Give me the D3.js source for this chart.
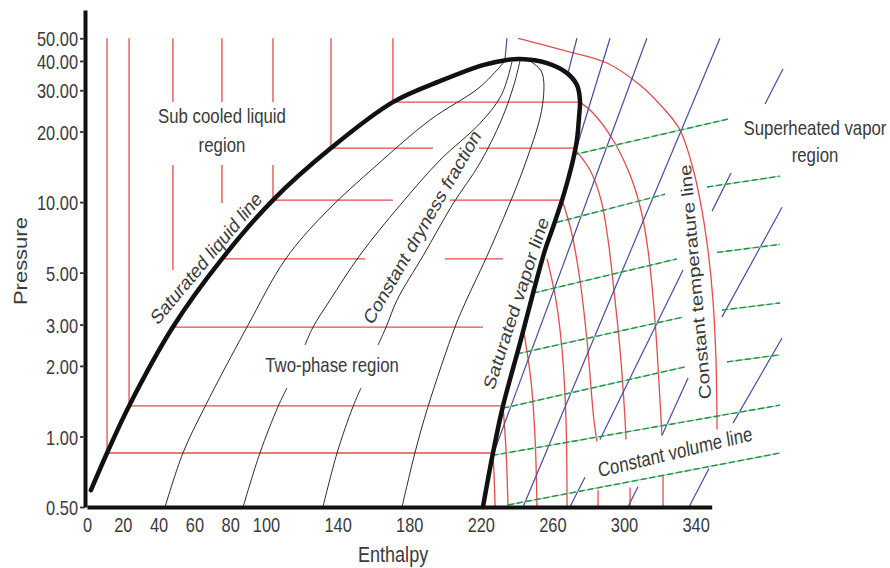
<!DOCTYPE html>
<html>
<head>
<meta charset="utf-8">
<script src="https://cdn.jsdelivr.net/npm/d3@7"></script>
<style>
  body { margin: 0; background: #fff; }
  text { font-family: "Liberation Sans", Arial, Helvetica, sans-serif; fill: #3a3a3a; }
</style>
</head>
<body>
<svg id="chart" width="890" height="568"></svg>
<script>
// ---- Axis ticks ----
const pressureTicks = [0.5, 1, 2, 3, 5, 10, 20, 30, 40, 50];
const enthalpyTicks = [0, 20, 40, 60, 80, 100, 140, 180, 220, 260, 300, 340];

// ---- Saturation dome: [enthalpy, pressure] ----
const satLiquid = [[2.2,0.59],[11.2,0.85],[23.5,1.35],[48.0,2.93],[75.4,5.72],[103.9,10.2],
  [136.3,17.0],[170.9,26.7],[198.9,33.2],[221.2,38.4],[234.6,40.4],[241.9,40.8]];
const satVapor = [[241.9,40.8],[257.0,39.2],[268.2,35.5],[273.7,31.6],[275.4,27.2],[274.9,23.1],
  [273.7,18.4],[271.5,15.1],[268.2,12.06],[265.4,10.2],[259.8,7.6],[255.9,6.25],[249.2,4.09],
  [241.9,2.5],[232.4,1.35],[226.8,0.85],[221.2,0.5]];

// ---- Isotherms (red) ----
const isoSatP = [0.85, 1.35, 2.93, 5.72, 10.2, 17.0, 26.7];
const isoLiquidH = [11.2, 23.5, 48.0, 75.4, 103.9, 136.3, 170.9];
// vertical runs in the sub-cooled region: [P from, P to]
const isoLiquidRuns = [
  [[50, 0.85]],
  [[50, 1.35]],
  [[50, 26.7], [14.4, 5.13]],
  [[50, 26.7], [14.4, 9.9]],
  [[50, 26.7], [14.4, 10.2]],
  [[50, 17.0]],
  [[50, 26.7]]
];
// horizontal runs across the two-phase region: [h from, h to]
const isoTwoPhaseRuns = [
  [[11.2, 226.8]],
  [[23.5, 232.4]],
  [[48.0, 221.2]],
  [[75.4, 155.3], [200.0, 232.4]],
  [[103.9, 170.9], [202.8, 265.4]],
  [[136.3, 193.3], [219.0, 272.1]],
  [[170.9, 275.4]]
];
// superheated branches: [h, P] points
const isoVaporRuns = [
  [[[226.8,0.85],[227.5,0.66],[228.0,0.5]]],
  [[[232.4,1.35],[234.1,0.875],[235.2,0.5]]],
  [[[243.6,2.93],[248.0,1.74],[250.3,0.99],[251.4,0.5]]],
  [[[257.0,5.72],[262.0,3.82],[265.4,2.34],[267.6,1.175],[268.2,0.5]]],
  [[[265.4,10.2],[270.4,7.6],[275.4,4.65],[279.3,2.58],[283.2,1.175],[284.9,0.95]],
   [[285.5,0.59],[285.5,0.5]]],
  [[[272.1,17.0],[281.0,13.7],[287.2,10.2],[291.1,6.9],[294.4,4.2],[297.8,2.34],[300.6,1.175],[301.1,0.97]],
   [[303.4,0.605],[303.4,0.5]]],
  [[[275.4,26.7],[282.7,24.0],[293.9,18.4],[303.4,13.05],[309.5,9.25],[313.4,6.25],[317.3,3.14],[320.1,1.43],[321.2,1.01]],
   [[321.8,0.68],[321.8,0.5]]]
];
// supercritical isotherm
const isoSupercritical = [[240.8,50],[265.9,44.5],[290.5,39.2],[308.9,31.6],[322.9,24.7],[331.3,20.3],
  [338.0,14.4],[342.5,10.2],[346.9,6.25],[349.7,3.82],[351.4,2.12],[352.0,1.07]];

// ---- Isentropes (blue), runs of [h, P] ----
const entropyRuns = [
  [[[233.5,40.4],[234.6,50]]],
  [[[268.7,35.5],[273.7,50]]],
  [[[272.6,16.2],[292.2,50]]],
  [[[225.1,0.77],[312.8,50]]],
  [[[243.6,0.5],[353.6,50]]],
  [[[269.8,0.5],[278.2,0.67]], [[286.6,0.97],[333.0,5.13]], [[349.2,9.15],[359.8,13.3]], [[378.8,26.2],[388.8,37.0]]],
  [[[302.2,0.5],[307.8,0.61]], [[321.2,1.01],[335.8,1.775]], [[354.7,3.23],[388.3,9.5]]],
  [[[336.3,0.5],[347.5,0.73]], [[360.9,1.14],[388.3,2.63]]]
];

// ---- Constant volume lines (green dashed), runs of [h, P] ----
const volumeRuns = [
  [[[271.5,15.9],[358.1,22.6]]],
  [[[262.6,8.2],[322.9,10.8]], [[346.4,11.6],[387.2,12.9]]],
  [[[249.2,4.09],[329.6,5.72]], [[352.0,6.1],[387.2,6.6]]],
  [[[240.2,2.25],[333.0,3.23]], [[354.7,3.46],[387.2,3.71]]],
  [[[232.4,1.32],[334.1,1.98]], [[357.5,2.08],[387.2,2.23]]],
  [[[226.3,0.83],[387.2,1.36]]],
  [[[235.2,0.51],[387.2,0.85]]]
];

// ---- Constant dryness fraction lines (thin black), runs of [h, P] ----
const qualityRuns = [
  [[[43.6,0.5],[53.6,0.85],[65.9,1.34],[89.4,2.93],[111.0,5.72],[133.0,8.98],
    [162.0,14.4],[191.6,22.4],[219.6,31.0],[233.5,40.0]]],
  [[[87.2,0.5],[96.6,0.85],[106.7,1.34],[111.7,1.61]],
   [[121.8,2.455],[126.3,2.93],[135.8,3.82],[152.5,5.94],[174.9,9.7],[197.2,15.1],[219.6,21.7],[231.5,28.6],[237.4,39.6]]],
  [[[131.8,0.5],[139.7,0.85],[148.6,1.34],[153.1,1.61]],
   [[162.6,2.455],[167.6,2.99],[173.2,3.82],[188.0,5.94],[204.0,9.7],[219.6,14.7],[231.5,22.4],[238.5,31.6],[241.9,40.0]]],
  [[[176.0,0.5],[183.2,0.85],[190.5,1.34],[205.6,2.93],[212.0,3.82],[225.0,6.25],[245.0,14.7],
    [254.5,26.0],[254.0,35.9],[247.5,40.0]]]
];

// ---- Scales ----
const svg = d3.select('#chart');
const x = d3.scaleLinear().domain([0, 349]).range([87, 711.7]);
const y = d3.scaleLog().domain([0.5, 66]).range([507, 10]);
const SX = 0.82; // horizontal glyph compression of the lettering

const smooth = d3.line().x(d => x(d[0])).y(d => y(d[1])).curve(d3.curveCatmullRom.alpha(0.5));
const straight = d3.line().x(d => x(d[0])).y(d => y(d[1]));

const RED = '#e64a4c', BLUE = '#4a4a9e', GREEN = '#22914a';

// ---- Isotherms ----
const gIso = svg.append('g').attr('fill', 'none').attr('stroke', RED).attr('stroke-width', 1.3);
isoLiquidRuns.forEach((runs, i) => {
  runs.forEach(r => gIso.append('path').attr('d', straight([[isoLiquidH[i], r[0]], [isoLiquidH[i], r[1]]])));
});
isoTwoPhaseRuns.forEach((runs, i) => {
  runs.forEach(r => gIso.append('path').attr('d', straight([[r[0], isoSatP[i]], [r[1], isoSatP[i]]])));
});
isoVaporRuns.forEach(runs => runs.forEach(r => gIso.append('path').attr('d', smooth(r))));
gIso.append('path').attr('d', smooth(isoSupercritical));

// ---- Isentropes ----
const gEnt = svg.append('g').attr('fill', 'none').attr('stroke', BLUE).attr('stroke-width', 1.2);
entropyRuns.forEach(runs => runs.forEach(r => gEnt.append('path').attr('d', straight(r))));

// ---- Constant volume lines ----
const gVol = svg.append('g').attr('fill', 'none');
volumeRuns.forEach(runs => runs.forEach(r => {
  gVol.append('path').attr('d', straight(r)).attr('stroke', '#8fd3a0').attr('stroke-width', 1.2);
  gVol.append('path').attr('d', straight(r)).attr('stroke', GREEN).attr('stroke-width', 1.4)
      .attr('stroke-dasharray', '6,3');
}));

// ---- Dryness fraction lines ----
const gQ = svg.append('g').attr('fill', 'none').attr('stroke', '#2b2b2b').attr('stroke-width', 1);
qualityRuns.forEach(runs => runs.forEach(r => gQ.append('path').attr('d', smooth(r))));

// ---- Saturation dome ----
svg.append('path')
  .attr('d', smooth(satLiquid.concat(satVapor.slice(1))))
  .attr('fill', 'none').attr('stroke', '#111').attr('stroke-width', 4.5)
  .attr('stroke-linejoin', 'round').attr('stroke-linecap', 'round');

// ---- Axes ----
const yAxis = svg.append('g').attr('transform', `translate(${x(0) - 2},0)`)
  .call(d3.axisLeft(y).tickValues(pressureTicks).tickFormat(d3.format('.2f')).tickSize(5).tickSizeOuter(0).tickPadding(2));
const xAxis = svg.append('g').attr('transform', `translate(0,${y(0.5)})`)
  .call(d3.axisBottom(x).tickValues(enthalpyTicks).tickSize(0).tickSizeOuter(0).tickPadding(11));

[yAxis, xAxis].forEach(a => {
  a.select('.domain').attr('stroke', '#111').attr('stroke-width', 4);
  a.selectAll('.tick line').attr('stroke', '#333').attr('stroke-width', 1.8);
  a.selectAll('.tick text').attr('font-size', 20).attr('fill', '#3a3a3a')
    .style('font-family', '"Liberation Sans", Arial, sans-serif');
});
yAxis.selectAll('.tick text').attr('x', null).attr('dy', '0.38em')
  .attr('transform', `translate(-7,0) scale(${SX},1)`);
xAxis.selectAll('.tick text').attr('transform', `scale(${SX},1)`);

// ---- Lettering ----
function label(str, px, py, angle, size, dy) {
  const a = angle * Math.PI / 180;
  const ap = Math.atan2(SX * Math.sin(a), Math.cos(a)) * 180 / Math.PI;
  svg.append('text')
    .attr('transform', `translate(${px},${py}) scale(${SX},1) rotate(${ap})`)
    .attr('text-anchor', 'middle').attr('dy', dy).attr('font-size', size).text(str);
}
const annotations = [
  { t: 'Sub cooled liquid', h: 75.4, p: 21.7, a: 0, dy: '0' },
  { t: 'region', h: 75.4, p: 16.35, a: 0, dy: '0' },
  { t: 'Saturated liquid line', h: 66.5, p: 5.77, a: -50, dy: '0.35em' },
  { t: 'Constant dryness fraction', h: 187.2, p: 7.83, a: -60, dy: '0.35em' },
  { t: 'Two-phase region', h: 136.9, p: 1.88, a: 0, dy: '0' },
  { t: 'Saturated vapor line', h: 239.7, p: 3.71, a: -72, dy: '0.35em' },
  { t: 'Constant temperature line', h: 339.7, p: 4.56, a: -95, dy: '0.35em' },
  { t: 'Superheated vapor', h: 406.7, p: 19.3, a: 0, dy: '0' },
  { t: 'region', h: 406.7, p: 14.8, a: 0, dy: '0' },
  { t: 'Constant volume line', h: 328.5, p: 0.86, a: -13.5, dy: '0.35em' }
];
annotations.forEach(d => label(d.t, x(d.h), y(d.p), d.a, 20.5, d.dy));

// axis titles
label('Pressure', 21, y(5.6), -90, 22, '0.35em');
label('Enthalpy', x(171), 562, 0, 22, '0');
</script>
</body>
</html>
